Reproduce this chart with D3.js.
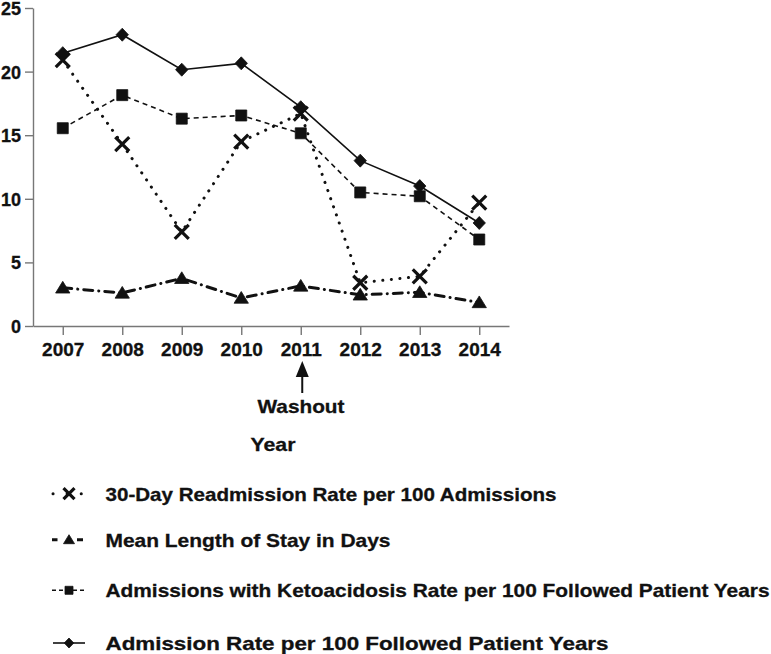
<!DOCTYPE html>
<html><head><meta charset="utf-8">
<script src="https://cdn.jsdelivr.net/npm/d3@7"></script>
<style>
body{margin:0;background:#fff;}
svg{display:block;font-family:"Liberation Sans",Arial,Helvetica,sans-serif;font-weight:bold;}
</style></head>
<body>
<svg id="c" width="771" height="654"></svg>
<script>
const years = ["2007","2008","2009","2010","2011","2012","2013","2014"];
const yTicks = [0,5,10,15,20,25];
const readmission = [20.9,14.3,7.4,14.5,16.7,3.4,3.9,9.7];
const lengthOfStay = [3.0,2.6,3.75,2.2,3.15,2.45,2.65,1.85];
const ketoacidosis = [15.55,18.15,16.3,16.55,15.15,10.5,10.2,6.8];
const admissionRate = [21.45,22.9,20.15,20.65,17.2,13.0,11.0,8.1];
const legendLabels = [
  "30-Day Readmission Rate per 100 Admissions",
  "Mean Length of Stay in Days",
  "Admissions with Ketoacidosis Rate per 100 Followed Patient Years",
  "Admission Rate per 100 Followed Patient Years"
];
const washoutYear = "2011";

const svg = d3.select("#c");
const x = d3.scalePoint().domain(years).range([33,509]).padding(0.5);
const y = d3.scaleLinear().domain([0,25]).range([326,8]);

// axes
const gx = svg.append("g").attr("transform","translate(0,326)")
  .call(d3.axisBottom(x).tickSize(9).tickSizeOuter(0).tickPadding(8));
const gy = svg.append("g").attr("transform","translate(33,0)")
  .call(d3.axisLeft(y).tickValues(yTicks).tickSize(8).tickSizeOuter(0).tickPadding(4));
[gx,gy].forEach(g=>{
  g.selectAll("path,line").attr("stroke","#777").attr("stroke-width",1.4);
  g.selectAll("text").attr("fill","#111").attr("stroke","#111").attr("stroke-width",0.3)
    .style("font-size","19px").style("font-family","inherit").style("font-weight","bold");
});
gy.selectAll("text").style("font-size","18px").attr("dy","0.36em");

const series = [
  {vals:readmission, dash:"0.1,8.5", width:3, cap:"round", sym:"cross"},
  {vals:lengthOfStay, dash:"9,6,0.1,6", width:3, cap:"round", sym:"tri"},
  {vals:ketoacidosis, dash:"5,4", width:1.6, cap:"butt", sym:"sq"},
  {vals:admissionRate, dash:null, width:1.6, cap:"butt", sym:"dia"}
];

function symPath(sym, s){
  if(sym==="cross"){ const h=s/2; return `M${-h},${-h}L${h},${h}M${-h},${h}L${h},${-h}`; }
  if(sym==="tri"){ const h=s/2; return `M0,${-h}L${h*1.1},${h*0.8}L${-h*1.1},${h*0.8}Z`; }
  if(sym==="sq"){ const h=s/2; return `M${-h},${-h}H${h}V${h}H${-h}Z`; }
  const h=s/2; return `M0,${-h}L${h*0.95},0L0,${h}L${-h*0.95},0Z`;
}
function drawSym(g, sym, cx, cy, s){
  const p = g.append("path").attr("d", symPath(sym,s)).attr("transform",`translate(${cx},${cy})`);
  if(sym==="cross") p.attr("fill","none").attr("stroke","#111").attr("stroke-width",3.2);
  else p.attr("fill","#111").attr("stroke","#111").attr("stroke-width",0.8);
}

const line = d3.line().x((d,i)=>x(years[i])).y(d=>y(d));
series.forEach(s=>{
  svg.append("path").attr("d",line(s.vals)).attr("fill","none")
    .attr("stroke","#111").attr("stroke-width",s.width)
    .attr("stroke-linecap",s.cap)
    .attr("stroke-dasharray",s.dash);
});
const sizes = {cross:14, tri:13, sq:11, dia:13};
series.forEach(s=>{
  const g = svg.append("g");
  s.vals.forEach((v,i)=>drawSym(g, s.sym, x(years[i]), y(v), sizes[s.sym]));
});

function boldText(xp, yp, str, size, len, anchor){
  const t = svg.append("text").attr("x",xp).attr("y",yp).style("font-size",size+"px")
    .attr("fill","#111").attr("stroke","#111").attr("stroke-width",0.3)
    .attr("text-anchor",anchor||"start").text(str);
  if(len) t.attr("textLength",len).attr("lengthAdjust","spacingAndGlyphs");
  return t;
}

// washout arrow
const ax = x(washoutYear)+1.5;
svg.append("line").attr("x1",ax).attr("x2",ax).attr("y1",376).attr("y2",393).attr("stroke","#111").attr("stroke-width",2);
svg.append("path").attr("d",`M${ax},361L${ax+6.5},377L${ax-6.5},377Z`).attr("fill","#111");
boldText(301, 413, "Washout", 19, 87, "middle");
boldText(273, 451, "Year", 19, 45, "middle");

// legend
const legBase = [500.7,546.7,597.3,650];
const legLen = [451, 285, 664, 503];
const legSizes = {cross:11, tri:10, sq:8, dia:10};
const legStyle = [
  {dash:"0.1,14", cap:"round", x1:53, x2:85},
  {dash:"5.5,19.5,6,100", cap:"butt", x1:52, x2:83},
  {dash:"4,3", cap:"butt", x1:52, x2:86},
  {dash:null, cap:"butt", x1:53, x2:85}
];
series.forEach((s,i)=>{
  const cy = legBase[i]-7;
  const st = legStyle[i];
  const g = svg.append("g");
  g.append("line").attr("x1",st.x1).attr("x2",st.x2).attr("y1",cy).attr("y2",cy)
    .attr("stroke","#111").attr("stroke-width",s.width)
    .attr("stroke-linecap",st.cap).attr("stroke-dasharray",st.dash);
  drawSym(g, s.sym, 69, cy, legSizes[s.sym]);
  boldText(105.5, legBase[i], legendLabels[i], 18.5, legLen[i]);
});
</script>
</body></html>
